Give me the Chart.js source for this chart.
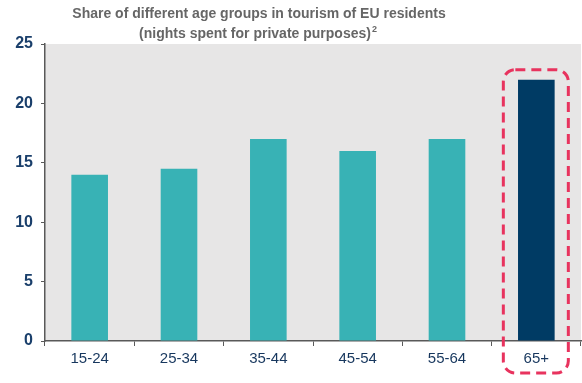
<!DOCTYPE html>
<html>
<head>
<meta charset="utf-8">
<script src="https://cdn.jsdelivr.net/npm/chart.js@4"></script>
<style>
  html, body { margin: 0; padding: 0; background: #fff; }
  #wrap { width: 582px; height: 383px; position: relative; }
</style>
</head>
<body>
<div id="wrap"><canvas id="chart"></canvas></div>
<script>
const ageGroups = ['15-24', '25-34', '35-44', '45-54', '55-64', '65+']
const shares = [14, 14.5, 17, 16, 17, 22]
const yTicks = [0, 5, 10, 15, 20, 25]
const highlightIndex = 5

const barColors = ageGroups.map((g, i) => i == highlightIndex ? '#003b64' : '#38b2b5')

// grey plot background, title and the dashed marker round the last bar
const decor = {
    id: 'decor',
    beforeDraw(chart){
        const {ctx, chartArea} = chart
        ctx.save()
        ctx.fillStyle = '#e7e6e6'
        ctx.fillRect(chartArea.left, chartArea.top, chartArea.right - chartArea.left, chartArea.bottom - chartArea.top)
        ctx.restore()
    },
    afterDraw(chart){
        const {ctx} = chart
        const x = chart.scales.x
        const y = chart.scales.y
        ctx.save()
        // title
        ctx.fillStyle = '#666666'
        ctx.font = 'bold 14px Arial, "Liberation Sans", sans-serif'
        ctx.textAlign = 'center'
        ctx.textBaseline = 'alphabetic'
        const cx = 259
        ctx.fillText('Share of different age groups in tourism of EU residents', cx, 18)
        const line2 = '(nights spent for private purposes)'
        const w2 = ctx.measureText(line2).width
        ctx.fillText(line2, cx - 4, 38)
        ctx.font = 'bold 9px Arial, "Liberation Sans", sans-serif'
        ctx.textAlign = 'left'
        ctx.fillText('2', cx - 4 + w2 / 2 + 1, 32)

        // dashed rounded box
        const bx = x.getPixelForValue(highlightIndex)
        const top = y.getPixelForValue(shares[highlightIndex]) - 10
        const left = bx - 33, right = bx + 32, bottom = 373
        ctx.strokeStyle = '#e8335e'
        ctx.lineWidth = 3
        ctx.setLineDash([10, 6])
        ctx.beginPath()
        ctx.roundRect(left, top, right - left, bottom - top, 12)
        ctx.stroke()
        ctx.restore()
    }
}

const chart = new Chart(document.querySelector('#chart'), {
    type: 'bar',
    data: {
        labels: ageGroups,
        datasets: [{
            data: shares,
            backgroundColor: barColors,
            categoryPercentage: 1,
            barPercentage: 0.41
        }]
    },
    options: {
        responsive: true,
        maintainAspectRatio: false,
        animation: false,
        layout: { padding: { top: 44, right: 1, left: 0, bottom: 0 } },
        plugins: { legend: { display: false }, tooltip: { enabled: false } },
        scales: {
            x: {
                grid: { display: true, drawOnChartArea: false, offset: true, tickLength: 5, color: '#595959' },
                border: { display: true, color: '#595959', width: 1.5 },
                ticks: {
                    color: '#17375e',
                    font: { family: 'Arial, "Liberation Sans", sans-serif', size: 15 },
                    padding: 4
                },
                afterFit(scale){ scale.height = 42 }
            },
            y: {
                min: 0,
                max: 25,
                afterBuildTicks(scale){ scale.ticks = yTicks.map(v => ({value: v})) },
                grid: { display: true, drawOnChartArea: false, tickLength: 4, color: '#595959' },
                border: { display: true, color: '#595959', width: 1.5 },
                ticks: {
                    color: '#1a3f6b',
                    font: { family: 'Arial, "Liberation Sans", sans-serif', size: 16, weight: 'bold' },
                    padding: 8
                },
                afterFit(scale){ scale.width = 45 }
            }
        }
    },
    plugins: [decor]
})
</script>
</body>
</html>
